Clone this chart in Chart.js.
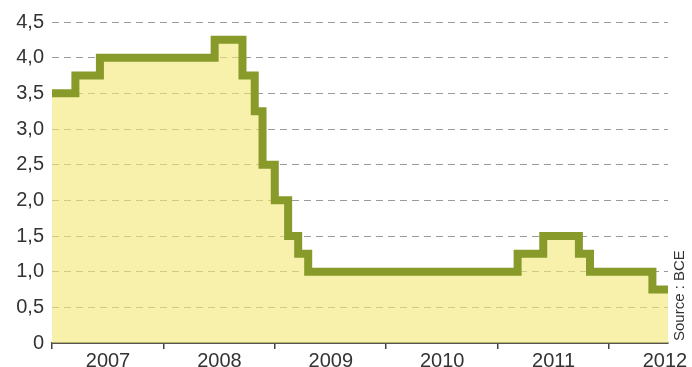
<!DOCTYPE html>
<html>
<head>
<meta charset="utf-8">
<script src="https://cdn.jsdelivr.net/npm/chart.js@4/dist/chart.umd.min.js"></script>
<style>
  html, body { margin: 0; padding: 0; background: #fff; }
  #wrap { width: 692px; height: 367px; }
</style>
</head>
<body>
<div id="wrap"><canvas id="rateChart"></canvas></div>
<script>
// ECB main rate, step changes (decimal years)
const changeYears = [2007.0, 2007.21, 2007.43, 2008.46, 2008.71, 2008.82, 2008.89, 2009.0, 2009.12,
                     2009.21, 2009.3, 2011.18, 2011.41, 2011.73, 2011.83, 2012.39, 2012.53];
const rates = [3.5, 3.75, 4.0, 4.25, 3.75, 3.25, 2.5, 2.0, 1.5,
               1.25, 1.0, 1.25, 1.5, 1.25, 1.0, 0.75, 0.75];
const yearTicks = [2007, 2008, 2009, 2010, 2011, 2012];
const rateTicks = [0, 0.5, 1, 1.5, 2, 2.5, 3, 3.5, 4, 4.5];
const sourceText = 'Source : BCE';

const points = changeYears.map((x, i) => ({ x: x, y: rates[i] }));

// rotated source note on the right
const sourceNote = {
    id: 'sourceNote',
    afterDraw(chart) {
        const ctx = chart.ctx;
        ctx.save();
        ctx.translate(680, 341);
        ctx.rotate(-Math.PI / 2);
        ctx.font = '15px "Liberation Sans Narrow", "Liberation Sans", Arial, sans-serif';
        ctx.fillStyle = '#333';
        ctx.textAlign = 'left';
        ctx.textBaseline = 'middle';
        ctx.fillText(sourceText, 0, 0);
        ctx.restore();
    }
};

new Chart(document.getElementById('rateChart'), {
    type: 'line',
    data: {
        datasets: [{
            data: points,
            stepped: true,
            borderColor: '#879a2a',
            borderWidth: 8,
            borderJoinStyle: 'miter',
            backgroundColor: 'rgba(243, 232, 120, 0.62)',
            fill: 'origin',
            pointRadius: 0,
            tension: 0
        }]
    },
    options: {
        responsive: true,
        maintainAspectRatio: false,
        animation: false,
        layout: { padding: { top: 22, right: 24, left: 0, bottom: 0 } },
        plugins: { legend: { display: false }, tooltip: { enabled: false } },
        scales: {
            x: {
                type: 'linear',
                min: 2007,
                max: 2012.53,
                afterBuildTicks: s => { s.ticks = yearTicks.map(v => ({ value: v })); },
                afterFit: s => { s.height = 24; },
                grid: { drawOnChartArea: false, drawTicks: true, tickLength: 6, color: '#444', lineWidth: 1.5 },
                border: { display: true, color: '#555', width: 2 },
                ticks: {
                    callback: v => String(v),
                    labelOffset: 56,
                    padding: 0,
                    maxRotation: 0,
                    color: '#333',
                    font: { family: '"Liberation Sans", Arial, sans-serif', size: 20 }
                }
            },
            y: {
                min: 0,
                max: 4.5,
                afterBuildTicks: s => { s.ticks = rateTicks.map(v => ({ value: v })); },
                afterFit: s => { s.width = 52; },
                grid: { color: '#9a9a9a', lineWidth: 1, drawTicks: false },
                border: { display: false, dash: [7, 5] },
                ticks: {
                    callback: v => v === 0 ? '0' : v.toFixed(1).replace('.', ','),
                    padding: 8,
                    color: '#333',
                    font: { family: '"Liberation Sans", Arial, sans-serif', size: 20 }
                }
            }
        }
    },
    plugins: [sourceNote]
});
</script>
</body>
</html>
